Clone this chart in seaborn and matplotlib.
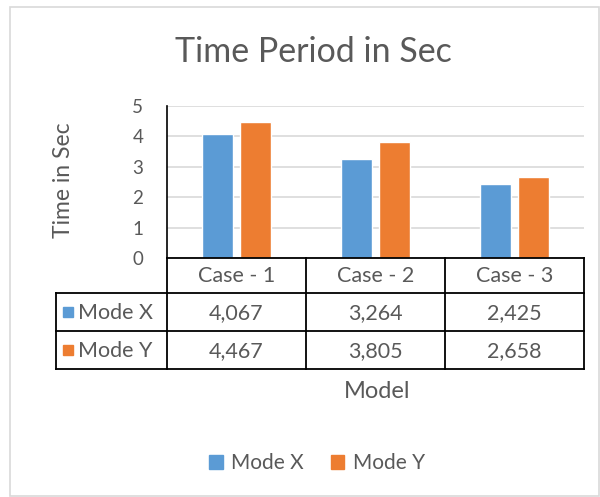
import pandas as pd
import matplotlib.pyplot as plt
import seaborn as sns
from matplotlib.patches import Patch, Rectangle

# data
cases = ["Case - 1", "Case - 2", "Case - 3"]
modes = ["Mode X", "Mode Y"]
mode_x = [4.067, 3.264, 2.425]
mode_y = [4.467, 3.805, 2.658]
y_ticks = [0, 1, 2, 3, 4, 5]

blue = "#5B9BD5"
orange = "#ED7D31"
grey_txt = "#595959"

sns.set_style("white")
plt.rcParams["font.family"] = ["Lato", "DejaVu Sans"]

W, H = 600, 497
fig = plt.figure(figsize=(6, 4.97), dpi=100)

def fx(px):
    return px / W

def fy(py):
    return 1 - py / H

# outer chart frame
fig.patches.append(Rectangle((fx(10), fy(496)), fx(599) - fx(10), fy(7) - fy(496),
                             transform=fig.transFigure, fill=False,
                             edgecolor="#D9D9D9", lw=1.2))

ax = fig.add_axes([fx(167), fy(258), fx(584) - fx(167), (258 - 106) / H])
df = pd.DataFrame({
    "case": cases * 2,
    "mode": [modes[0]] * 3 + [modes[1]] * 3,
    "value": mode_x + mode_y,
})
sns.barplot(data=df, x="case", y="value", hue="mode", palette=[blue, orange],
            width=0.55, gap=0.2, saturation=1, legend=False, ax=ax, zorder=3)
ax.set_xlim(-0.5, 2.5)
ax.set_ylim(0, 5)
ax.set_yticks(y_ticks)
ax.set_xticks([])
ax.set_xlabel("")
ax.set_ylabel("")
ax.yaxis.grid(True, color="#D9D9D9", lw=1.2, zorder=0)
ax.tick_params(axis="y", length=0, pad=17, labelsize=13.5, labelcolor=grey_txt)
for s in ["top", "right", "bottom"]:
    ax.spines[s].set_visible(False)
ax.spines["left"].set_color("black")
ax.spines["left"].set_linewidth(1.2)

# data table under the axis
tab = fig.add_axes([0, 0, 1, 1], zorder=5)
tab.set_xlim(0, W)
tab.set_ylim(H, 0)
tab.axis("off")
col_x = [167, 306, 445, 584]
row_y = [258, 293, 331, 369]
lc = dict(color="black", lw=1.3, solid_capstyle="projecting")
tab.plot([col_x[0], col_x[-1]], [row_y[0], row_y[0]], **lc)
tab.plot([56, col_x[-1]], [row_y[1], row_y[1]], **lc)
tab.plot([56, col_x[-1]], [row_y[2], row_y[2]], **lc)
tab.plot([56, col_x[-1]], [row_y[3], row_y[3]], **lc)
tab.plot([56, 56], [row_y[1], row_y[3]], **lc)
for x in col_x:
    tab.plot([x, x], [row_y[0], row_y[3]], **lc)

tsize = 15.5
for i, c in enumerate(cases):
    cx = (col_x[i] + col_x[i + 1]) / 2
    tab.text(cx, (row_y[0] + row_y[1]) / 2 + 1, c, ha="center", va="center",
             fontsize=tsize, color=grey_txt)
for r, (name, vals, col) in enumerate(zip(modes, [mode_x, mode_y], [blue, orange])):
    cy = (row_y[r + 1] + row_y[r + 2]) / 2
    tab.add_patch(Rectangle((63, cy - 5), 10, 10, color=col))
    tab.text(78, cy + 1, name, ha="left", va="center", fontsize=tsize, color=grey_txt)
    for i, v in enumerate(vals):
        cx = (col_x[i] + col_x[i + 1]) / 2
        tab.text(cx, cy + 1, f"{v:.3f}".replace(".", ","), ha="center", va="center",
                 fontsize=tsize, color=grey_txt)

fig.text(fx(313), fy(52), "Time Period in Sec", ha="center", va="center",
         fontsize=24.5, color=grey_txt)
fig.text(fx(63), fy(180), "Time in Sec", ha="center", va="center",
         rotation=90, fontsize=16.5, color=grey_txt)
fig.text(fx(377), fy(392), "Model", ha="center", va="center",
         fontsize=17, color=grey_txt)

handles = [Patch(color=blue, label=modes[0]), Patch(color=orange, label=modes[1])]
fig.legend(handles=handles, loc="center", bbox_to_anchor=(fx(317), fy(463)),
           ncol=2, frameon=False, fontsize=15, labelcolor=grey_txt,
           handlelength=0.65, handleheight=0.65, handletextpad=0.4, columnspacing=1.3)

fig.savefig("out.png", dpi=100)
